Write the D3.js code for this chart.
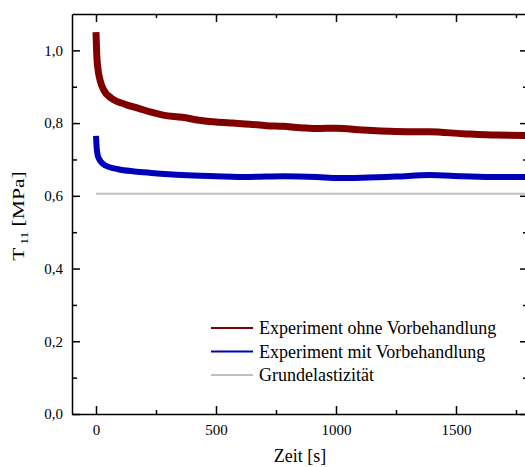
<!DOCTYPE html>
<html>
<head>
<meta charset="utf-8">
<script src="https://cdn.jsdelivr.net/npm/d3@7"></script>
<style>
  body { margin: 0; background: #fff; }
  text { font-family: "Liberation Serif", "Times New Roman", serif; fill: #000; }
</style>
</head>
<body>
<script>
var width = 525;
var height = 467;

// values
var timeRed = [0, 3, 8, 17, 33, 65, 120, 180, 230, 280, 360, 430, 500, 570, 640, 710, 780, 850, 920, 1000, 1110, 1250, 1390, 1530, 1670, 1800];
var ohneVorbehandlung = [1.05, 0.99, 0.95, 0.918, 0.89, 0.868, 0.852, 0.84, 0.83, 0.822, 0.816, 0.808, 0.803, 0.80, 0.797, 0.793, 0.791, 0.787, 0.785, 0.786, 0.781, 0.777, 0.776, 0.771, 0.767, 0.766];

var timeBlue = [0, 3, 10, 37, 92, 160, 230, 360, 500, 640, 780, 920, 1010, 1110, 1250, 1390, 1530, 1670, 1800];
var mitVorbehandlung = [0.765, 0.73, 0.705, 0.684, 0.673, 0.667, 0.663, 0.657, 0.654, 0.652, 0.654, 0.652, 0.649, 0.650, 0.653, 0.657, 0.654, 0.652, 0.652];

var timeGrey = [0, 1800];
var grundelastizitaet = [0.606, 0.606];

var xMajor = [0, 500, 1000, 1500];
var xMinor = [250, 750, 1250, 1750];
var yMajor = [0, 0.2, 0.4, 0.6, 0.8, 1.0];
var yMinor = [0.1, 0.3, 0.5, 0.7, 0.9];

var legendLabels = ['Experiment ohne Vorbehandlung', 'Experiment mit Vorbehandlung', 'Grundelastizität'];
var colors = ['#800000', '#0000bb', '#c0c0c0'];

var serif = '"Liberation Serif", "Times New Roman", serif';

// plot frame (the right edge lies just outside the window)
var pLeft = 72, pTop = 14, pRight = 528, pBottom = 414;

var svg = d3.select('body').append('svg')
            .attr('width', width)
            .attr('height', height)
            .style('font-family', serif);

var x = d3.scaleLinear().domain([-100, 1800]).range([pLeft, pRight]);
var y = d3.scaleLinear().domain([0, 1.1]).range([pBottom, pTop]);

var fmt = function(d) { return d.toFixed(1).replace('.', ','); };

svg.append('clipPath').attr('id', 'plot')
   .append('rect')
   .attr('x', pLeft).attr('y', pTop)
   .attr('width', pRight - pLeft).attr('height', pBottom - pTop);

// data lines
var series = [
  {t: timeGrey, v: grundelastizitaet, c: colors[2], w: 2},
  {t: timeBlue, v: mitVorbehandlung, c: colors[1], w: 6},
  {t: timeRed, v: ohneVorbehandlung, c: colors[0], w: 7}
];

var line = d3.line()
  .x(function(d) { return x(d[0]); })
  .y(function(d) { return y(d[1]); })
  .curve(d3.curveMonotoneX);

svg.append('g').attr('clip-path', 'url(#plot)')
  .selectAll('path')
  .data(series)
  .enter().append('path')
    .attr('d', function(s) { return line(d3.zip(s.t, s.v)); })
    .attr('fill', 'none')
    .attr('stroke', function(s) { return s.c; })
    .attr('stroke-width', function(s) { return s.w; })
    .attr('stroke-linejoin', 'round');

// axes, ticks pointing inward
var styleAxis = function(g) {
  g.attr('font-family', serif).attr('font-size', 15);
  g.selectAll('path.domain').attr('stroke-width', 1.5);
  g.selectAll('.tick line').attr('stroke-width', 1.5);
  g.selectAll('text').style('font-family', serif).style('font-size', '15px');
};

var gx = svg.append('g').attr('transform', 'translate(0,' + pBottom + ')')
  .call(d3.axisBottom(x).tickValues(xMajor).tickSize(-8).tickSizeOuter(0).tickPadding(10).tickFormat(d3.format('d')));
gx.call(styleAxis);
gx.selectAll('text').attr('y', 21).attr('dy', 0);
svg.append('g').attr('transform', 'translate(0,' + pBottom + ')')
  .call(d3.axisBottom(x).tickValues(xMinor).tickSize(-4).tickFormat(''))
  .call(styleAxis).select('.domain').remove();

var gt = svg.append('g').attr('transform', 'translate(0,' + pTop + ')')
  .call(d3.axisTop(x).tickValues(xMajor).tickSize(-8).tickSizeOuter(0).tickFormat(''));
gt.call(styleAxis);
svg.append('g').attr('transform', 'translate(0,' + pTop + ')')
  .call(d3.axisTop(x).tickValues(xMinor).tickSize(-4).tickFormat(''))
  .call(styleAxis).select('.domain').remove();

var gy = svg.append('g').attr('transform', 'translate(' + pLeft + ',0)')
  .call(d3.axisLeft(y).tickValues(yMajor).tickSize(-8).tickSizeOuter(0).tickPadding(9).tickFormat(fmt));
gy.call(styleAxis);
svg.append('g').attr('transform', 'translate(' + pLeft + ',0)')
  .call(d3.axisLeft(y).tickValues(yMinor).tickSize(-5).tickFormat(''))
  .call(styleAxis).select('.domain').remove();

var gr = svg.append('g').attr('transform', 'translate(' + pRight + ',0)')
  .call(d3.axisRight(y).tickValues(yMajor).tickSize(-8).tickSizeOuter(0).tickFormat(''));
gr.call(styleAxis);
svg.append('g').attr('transform', 'translate(' + pRight + ',0)')
  .call(d3.axisRight(y).tickValues(yMinor).tickSize(-5).tickFormat(''))
  .call(styleAxis).select('.domain').remove();

// axis titles
svg.append('text')
   .attr('x', (pLeft + pRight) / 2).attr('y', 462)
   .attr('text-anchor', 'middle')
   .attr('font-size', '18px')
   .text('Zeit [s]');

var yt = svg.append('text')
   .attr('transform', 'translate(24,216) rotate(-90) scale(1.35,1)')
   .attr('text-anchor', 'middle')
   .attr('font-size', '16px');
yt.append('tspan').text('T');
yt.append('tspan').attr('font-size', '10px').attr('dy', 4).attr('dx', 2).text('11');
yt.append('tspan').attr('dy', -4).text(' [MPa]');

// legend
var legend = svg.append('g').selectAll('g')
  .data(legendLabels)
  .enter().append('g')
    .attr('transform', function(d, i) { return 'translate(211,' + (328 + i * 23.5) + ')'; });

legend.append('line')
  .attr('x1', 0).attr('x2', 42)
  .attr('stroke', function(d, i) { return colors[i]; })
  .attr('stroke-width', 2);

legend.append('text')
  .attr('x', 48).attr('dy', '0.36em')
  .attr('font-size', '18px')
  .text(function(d) { return d; });
</script>
</body>
</html>
